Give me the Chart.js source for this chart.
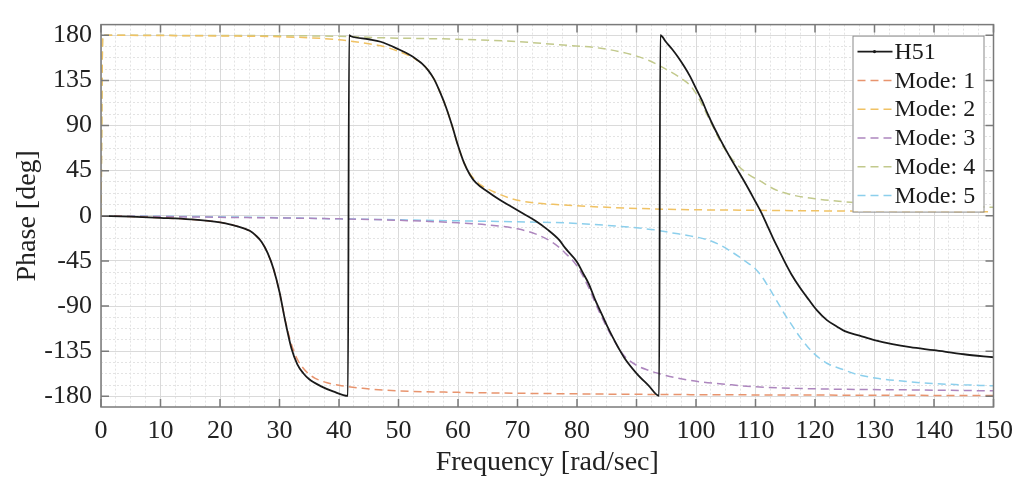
<!DOCTYPE html>
<html>
<head>
<meta charset="utf-8">
<script src="https://cdn.jsdelivr.net/npm/chart.js@4"></script>
<style>
  html, body { margin: 0; padding: 0; background: #fff; }
  #wrap { width: 1022px; height: 482px; }
</style>
</head>
<body>
<div id="wrap"><canvas id="phaseChart" width="1022" height="482"></canvas></div>
<script>
// tick labels
const xMajorTicks = [0, 10, 20, 30, 40, 50, 60, 70, 80, 90, 100, 110, 120, 130, 140, 150]
const yMajorTicks = [-180, -135, -90, -45, 0, 45, 90, 135, 180]
const xMinorStep = 2.5
const yMinorStep = 11.25

const seriesNames = ['H51', 'Mode: 1', 'Mode: 2', 'Mode: 3', 'Mode: 4', 'Mode: 5']

// H51 measured phase
const h51Freq = [0, 5, 10, 15, 20, 22, 24, 25, 26, 27, 28, 29, 30, 31, 32, 33, 34, 35, 37, 39, 41.5, 41.7, 42, 45, 47, 50, 52, 53, 54, 55, 56, 57, 58, 59, 60, 61, 62, 63, 65, 67, 69, 71, 73, 75, 77, 78, 80, 81, 82, 83, 84, 85, 86, 87, 88, 90, 92, 93.8, 94.0, 95, 96, 97, 98, 99, 100, 101, 102, 103, 104, 105, 106, 107, 108, 109, 110, 111, 112, 113, 114, 115, 116, 117.4, 119, 120.3, 122, 123.6, 125, 127.5, 130, 133, 136, 140, 145, 150]
const h51Phase = [0, -0.8, -2, -3.5, -6.5, -9, -12.5, -15, -19.5, -26, -37, -53, -76, -106, -132, -148, -157, -163, -170, -175, -179.5, 180, 179, 176, 173.5, 166, 160, 156, 151.5, 145, 136, 123, 108, 90, 70, 53, 41, 33, 24, 16, 9, 2, -5, -13.5, -24, -32, -46, -57, -68, -83, -96, -109, -121, -132, -142, -157, -169, -179.5, 180, 173, 166, 158, 149, 139, 127, 115, 101, 88.5, 77, 66, 55.5, 45.5, 35.5, 25, 14, 3, -10, -23, -35, -47, -58, -71, -84, -94, -104, -110, -115, -119.5, -124, -128, -131, -134, -138, -141]

// modal contributions
const mode1Freq = [0, 5, 10, 15, 20, 22, 24, 25, 26, 27, 28, 29, 30, 31, 32, 33, 34, 35, 36, 38, 40, 44, 50, 60, 80, 100, 125, 150]
const mode1Phase = [0, -0.8, -2, -3.5, -6.5, -9, -12.5, -15, -19.5, -26, -37, -53, -76, -105, -128, -143, -152, -158, -162, -166.5, -169, -172, -174.5, -176, -177.5, -178.3, -178.8, -179.2]

const mode2Freq = [0, 0.3, 10, 20, 30, 35, 40, 42, 45, 47, 50, 52, 53, 54, 55, 56, 57, 58, 59, 60, 61, 62, 63, 64, 66, 69, 72, 77, 85, 95, 110, 130, 150]
const mode2Phase = [0, 180, 179.7, 179.3, 178.5, 177.5, 175.5, 174, 171.5, 169.5, 164, 159, 155.5, 151.5, 145, 136, 123, 108, 90, 70, 53, 42, 35, 30, 24, 17, 13.5, 11, 8.5, 6.5, 5.5, 4.5, 4]

const mode3Freq = [0, 20, 40, 50, 60, 65, 70, 73, 76, 78, 80, 81, 82, 83, 84, 85, 86, 87, 88, 90, 92, 93.6, 97, 100.7, 105, 110, 120, 135, 150]
const mode3Phase = [0, -1.5, -3, -4.5, -7, -9, -13, -18, -27, -37, -50, -60, -72, -86, -99, -111, -122, -132, -140, -149, -154, -157, -162, -165.5, -168, -170.5, -172.5, -173.5, -174.5]

const mode4Freq = [0, 0.3, 20, 40, 47, 60, 69, 77, 84, 89, 92, 95, 97, 98, 99, 100, 101, 102, 103, 104, 105, 106, 107, 108, 109, 110.7, 113, 116, 120, 124, 130, 140, 150]
const mode4Phase = [0, 180, 179.7, 179, 177.5, 176, 174, 170.5, 167, 161, 155, 146, 139, 135, 130, 122, 111, 99, 87, 75, 65, 57, 50.5, 45, 40.5, 35, 27, 21, 17, 14.5, 12, 10, 8.5]

const mode5Freq = [0, 20, 40, 50, 60, 70, 78, 85, 90, 93, 96, 99, 102, 104, 106, 108, 110, 111, 112, 113, 114, 115, 116, 117, 118, 119.6, 122, 124.6, 127, 130.4, 135, 139, 145, 150]
const mode5Phase = [0, -1, -3, -4, -5, -6, -7, -9.5, -12, -14, -17, -20, -24, -29, -36, -44, -53, -60, -69, -79, -89, -99, -108, -117, -125, -136, -147, -153, -158, -162, -165, -167, -168.5, -169.5]

const seriesColors = ['#1a1a1a', '#e8946e', '#f0c264', '#ad86be', '#c2c98c', '#8ccfec']

const toPoints = (xs, ys) => xs.map((x, i) => ({ x: x, y: ys[i] }))

const allSeries = [
  toPoints(h51Freq, h51Phase),
  toPoints(mode1Freq, mode1Phase),
  toPoints(mode2Freq, mode2Phase),
  toPoints(mode3Freq, mode3Phase),
  toPoints(mode4Freq, mode4Phase),
  toPoints(mode5Freq, mode5Phase)
]

const serif = "'Liberation Serif', 'DejaVu Serif', serif"

// box round the plot with inward tick marks, like the original
const boxPlugin = {
  id: 'axesBox',
  afterDatasetsDraw(chart) {
    const { ctx, chartArea: a, scales } = chart
    ctx.save()
    ctx.strokeStyle = '#7a7a7a'
    ctx.lineWidth = 1.5
    ctx.strokeRect(a.left, a.top, a.right - a.left, a.bottom - a.top)
    ctx.beginPath()
    xMajorTicks.forEach(v => {
      const px = scales.x.getPixelForValue(v)
      ctx.moveTo(px, a.bottom); ctx.lineTo(px, a.bottom - 8)
      ctx.moveTo(px, a.top); ctx.lineTo(px, a.top + 8)
    })
    yMajorTicks.forEach(v => {
      const py = scales.y.getPixelForValue(v)
      ctx.moveTo(a.left, py); ctx.lineTo(a.left + 8, py)
      ctx.moveTo(a.right, py); ctx.lineTo(a.right - 8, py)
    })
    ctx.stroke()
    ctx.restore()
  }
}

// legend drawn inside the plot, top right
const insideLegend = {
  id: 'insideLegend',
  afterDraw(chart) {
    const { ctx, chartArea: a } = chart
    const w = 131
    const h = 176
    const left = a.right - 10 - w
    const top = a.top + 11
    ctx.save()
    ctx.fillStyle = '#fff'
    ctx.fillRect(left, top, w, h)
    ctx.strokeStyle = '#8a8a8a'
    ctx.lineWidth = 1
    ctx.strokeRect(left + 0.5, top + 0.5, w, h)
    ctx.font = '24px ' + serif
    ctx.textBaseline = 'middle'
    chart.data.datasets.forEach((ds, i) => {
      const y = top + 16 + i * 28.8
      ctx.strokeStyle = ds.borderColor
      ctx.lineWidth = ds.borderWidth
      ctx.setLineDash(ds.borderDash || [])
      ctx.beginPath()
      ctx.moveTo(left + 5, y)
      ctx.lineTo(left + 40, y)
      ctx.stroke()
      ctx.setLineDash([])
      if (i === 0) {
        ctx.fillStyle = ds.borderColor
        ctx.beginPath()
        ctx.arc(left + 22, y, 1.6, 0, Math.PI * 2)
        ctx.fill()
      }
      ctx.fillStyle = '#1a1a1a'
      ctx.fillText(ds.label, left + 42, y + 1)
    })
    ctx.restore()
  }
}

const minorValues = (majors, step) => {
  const vals = []
  for (let v = majors[0]; v <= majors[majors.length - 1] + 1e-9; v += step) vals.push(v)
  return vals
}

const isMajor = (majors, c) => c.tick && majors.includes(c.tick.value)

new Chart(document.getElementById('phaseChart'), {
  type: 'line',
  data: {
    datasets: allSeries.map((pts, i) => ({
      label: seriesNames[i],
      data: pts,
      borderColor: seriesColors[i],
      borderWidth: i === 0 ? 1.8 : 1.5,
      borderDash: i === 0 ? [] : [8, 5],
      pointRadius: 0,
      fill: false,
      cubicInterpolationMode: 'monotone',
      order: i === 0 ? 0 : i
    }))
  },
  options: {
    responsive: false,
    animation: false,
    devicePixelRatio: 1,
    layout: { padding: { top: 11, right: 28, left: 0, bottom: 0 } },
    plugins: {
      legend: { display: false },
      tooltip: { enabled: false }
    },
    scales: {
      x: {
        type: 'linear',
        min: 0,
        max: 150,
        afterBuildTicks: s => { s.ticks = minorValues(xMajorTicks, xMinorStep).map(v => ({ value: v })) },
        afterFit: s => { s.height = 75 },
        border: { display: false, dash: c => isMajor(xMajorTicks, c) ? [] : [2, 2] },
        grid: {
          drawTicks: false,
          color: c => isMajor(xMajorTicks, c) ? '#dadada' : '#e3e3e3',
          lineWidth: 1
        },
        ticks: {
          autoSkip: false,
          maxRotation: 0,
          padding: 9,
          color: '#222',
          font: { family: serif, size: 26 },
          callback: v => xMajorTicks.includes(v) ? String(v) : ''
        },
        title: {
          display: true,
          text: 'Frequency [rad/sec]',
          color: '#222',
          font: { family: serif, size: 28 },
          padding: { top: 0, bottom: 3 }
        }
      },
      y: {
        type: 'linear',
        min: -190.6,
        max: 190.6,
        afterBuildTicks: s => { s.ticks = minorValues(yMajorTicks, yMinorStep).map(v => ({ value: v })) },
        afterFit: s => { s.width = 101 },
        border: { display: false, dash: c => isMajor(yMajorTicks, c) ? [] : [2, 2] },
        grid: {
          drawTicks: false,
          color: c => isMajor(yMajorTicks, c) ? '#dadada' : '#e3e3e3',
          lineWidth: 1
        },
        ticks: {
          autoSkip: false,
          padding: 9,
          color: '#222',
          font: { family: serif, size: 26 },
          callback: v => yMajorTicks.includes(v) ? String(v) : ''
        },
        title: {
          display: true,
          text: 'Phase [deg]',
          color: '#222',
          font: { family: serif, size: 28 },
          padding: { top: 11, bottom: 0 }
        }
      }
    }
  },
  plugins: [boxPlugin, insideLegend]
})
</script>
</body>
</html>
